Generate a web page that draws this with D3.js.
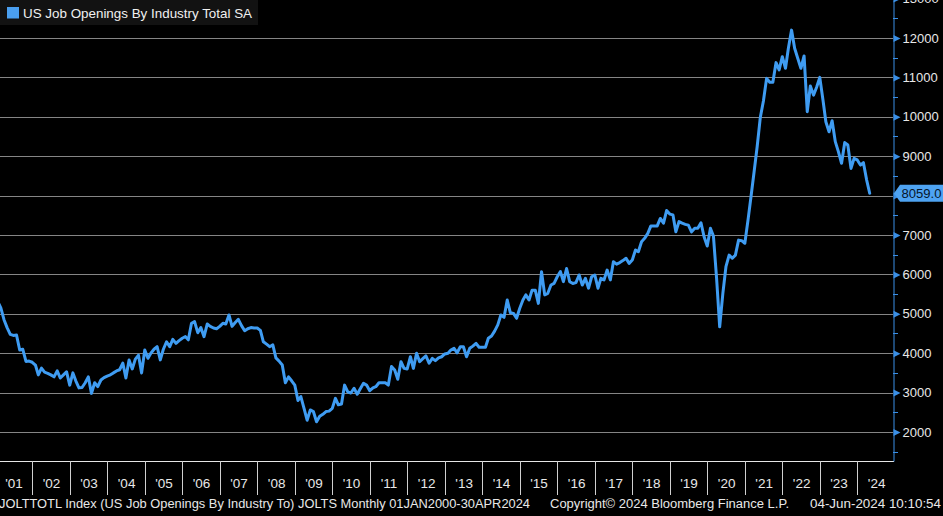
<!DOCTYPE html>
<html><head><meta charset="utf-8">
<script src="https://cdn.jsdelivr.net/npm/d3@7"></script>
<style>html,body{margin:0;padding:0;background:#000;}svg{display:block;}</style>
</head><body>
<svg id="chart" width="943" height="516"></svg>
<script>
// ---- data ----
const seriesTitle = "US Job Openings By Industry Total SA";
const firstYear = 2001;   // first value = Jan 2001, monthly (plotted at month end)
const openings = [
  // 2001
  5300,5150,4850,4650,4480,4450,4460,4080,4100,3790,3800,3770,
  // 2002
  3700,3450,3620,3520,3490,3450,3400,3550,3370,3450,3530,3190,
  // 2003
  3500,3300,3120,3130,3250,3400,2980,3250,3150,3320,3380,3420,
  // 2004
  3450,3500,3550,3580,3750,3370,3830,3600,3850,3950,3500,4080,
  // 2005
  3870,4000,4100,4165,3830,4100,4290,4165,4350,4250,4320,4380,
  // 2006
  4420,4340,4760,4800,4520,4650,4420,4740,4680,4640,4620,4680,
  // 2007
  4760,4740,4970,4680,4780,4860,4700,4570,4620,4650,4640,4640,
  // 2008
  4580,4290,4230,4165,4210,3880,3800,3700,3250,3400,3300,3190,
  // 2009
  2800,2900,2600,2300,2560,2520,2260,2400,2450,2520,2530,2600,
  // 2010
  2855,2690,2710,3190,3020,2990,3110,2960,3100,3235,3190,3050,
  // 2011
  3120,3150,3250,3250,3250,3190,3660,3575,3340,3785,3615,3600,
  // 2012
  3910,3615,4000,3785,3860,3930,3745,3870,3810,3880,3910,3980,
  // 2013
  4000,4080,4125,4010,4165,4165,3910,4125,4180,4250,4150,4150,
  // 2014
  4150,4380,4435,4560,4720,4970,4910,5350,5030,5010,4885,5140,
  // 2015
  5350,5480,5350,5600,5600,5265,6070,5480,5520,5730,5770,5940,
  // 2016
  6070,5815,6150,5815,5770,5790,5985,5730,5900,5650,5940,5985,
  // 2017
  5650,5900,5860,6110,5860,6320,6260,6300,6350,6410,6280,6365,
  // 2018
  6620,6575,6830,6915,7040,7230,7230,7230,7420,7300,7620,7530,
  // 2019
  7510,7080,7340,7300,7270,7250,7080,7170,7170,7310,6955,6720,
  // 2020
  7170,6975,5900,4670,5520,6195,6490,6410,6490,6870,6855,6790,
  // 2021
  7380,7950,8600,9240,9990,10400,10975,10875,10875,11375,11190,11525,
  // 2022
  11230,11740,12200,11740,11480,11230,11545,10130,10780,10550,10750,11000,
  // 2023
  10425,9875,9620,9900,9370,9115,8820,9345,9285,8690,8945,8905,
  // 2024
  8775,8835,8400,8059
];
const yTicks = [2000,3000,4000,5000,6000,7000,8000,9000,10000,11000,12000,13000];
const yMinorTicks = [1500,2500,3500,4500,5500,6500,7500,8500,9500,10500,11500,12500];
const yearLabels = ["'01","'02","'03","'04","'05","'06","'07","'08","'09","'10","'11","'12",
                    "'13","'14","'15","'16","'17","'18","'19","'20","'21","'22","'23","'24"];
const lastValueLabel = "8059.0";
const footerLeft = "JOLTTOTL Index (US Job Openings By Industry To) JOLTS  Monthly 01JAN2000-30APR2024";
const footerMid = "Copyright\u00A9 2024 Bloomberg Finance L.P.";
const footerRight = "04-Jun-2024 10:10:54";

// ---- setup ----
const W = 943, H = 516;
const plotR = 893, plotB = 461;
const blue = "#3f9cf2";
const axisBlue = "#3a8fe6";
const font = "'Liberation Sans', Arial, sans-serif";

const svg = d3.select("#chart");
svg.append("rect").attr("width", W).attr("height", H).attr("fill", "#000");

const data = openings.map((v, i) => ({
  date: new Date(firstYear + Math.floor(i / 12), (i % 12) + 1, 0),
  v
}));
const lastV = openings[openings.length - 1];

const x = d3.scaleTime()
  .domain([new Date(2001, 1, 20), new Date(2024, 11, 13)])
  .range([0, plotR]);
const y = d3.scaleLinear().domain([1264, 12964]).range([plotB, 0]);

// gridlines
svg.append("g").selectAll("line").data(yTicks.filter(t => y(t) > 0)).join("line")
  .attr("x1", 0).attr("x2", plotR)
  .attr("y1", d => Math.round(y(d)) + 0.5).attr("y2", d => Math.round(y(d)) + 0.5)
  .attr("stroke", "#858585").attr("stroke-width", 1);

// line
svg.append("clipPath").attr("id", "clip").append("rect")
  .attr("x", 0).attr("y", 0).attr("width", plotR).attr("height", plotB);
svg.append("path").datum(data)
  .attr("clip-path", "url(#clip)")
  .attr("fill", "none").attr("stroke", blue).attr("stroke-width", 3)
  .attr("stroke-linejoin", "round").attr("stroke-linecap", "round")
  .attr("d", d3.line().x(d => x(d.date)).y(d => y(d.v)));

// bottom frame line
svg.append("line").attr("x1", 0).attr("x2", plotR + 1).attr("y1", plotB + 0.5).attr("y2", plotB + 0.5)
  .attr("stroke", "#e6e6e6").attr("stroke-width", 1);

// right axis (the tick label hidden under the last-value box is not drawn)
const yAxis = svg.append("g").attr("transform", `translate(${plotR + 0.5},0)`)
  .call(d3.axisRight(y).tickValues(yTicks).tickSize(0).tickSizeOuter(0).tickPadding(9)
    .tickFormat(d => Math.abs(y(d) - y(lastV)) < 14 ? "" : d3.format("d")(d)));
yAxis.select(".domain").attr("stroke", axisBlue).attr("stroke-width", 1);
yAxis.selectAll(".tick text").attr("fill", "#e8e8e8").style("font-family", font).style("font-size", "13px");
yAxis.selectAll(".tick").append("path").attr("d", "M0,-3.5L7,0L0,3.5Z").attr("fill", axisBlue);
svg.append("g").selectAll("line").data(yMinorTicks).join("line")
  .attr("x1", plotR).attr("x2", plotR + 5)
  .attr("y1", d => Math.round(y(d)) + 0.5).attr("y2", d => Math.round(y(d)) + 0.5)
  .attr("stroke", axisBlue).attr("stroke-width", 1);

// year separators
const yearStarts = d3.range(2002, 2025).map(yr => new Date(yr, 0, 1));
svg.append("g").selectAll("line").data(yearStarts).join("line")
  .attr("x1", d => Math.round(x(d)) + 0.5).attr("x2", d => Math.round(x(d)) + 0.5)
  .attr("y1", plotB).attr("y2", 495)
  .attr("stroke", "#d0d0d0").attr("stroke-width", 1);

// year labels via axisBottom at mid-year
const midYears = yearLabels.map((_, i) => new Date(2001 + i, 6, 2));
const xAxis = svg.append("g").attr("transform", `translate(0,${plotB})`)
  .call(d3.axisBottom(x).tickValues(midYears).tickSize(0).tickPadding(17)
    .tickFormat((d, i) => yearLabels[i]));
xAxis.select(".domain").remove();
xAxis.selectAll(".tick text").attr("fill", "#e8e8e8").style("font-family", font).style("font-size", "13.5px");

// last value label
const ly = y(lastV);
svg.append("path")
  .attr("d", `M${plotR + 1},${ly} L${plotR + 7},${ly - 8.5} H${W} V${ly + 8.5} H${plotR + 7} Z`)
  .attr("fill", "#4ea3f2");
svg.append("text").attr("x", 901.5).attr("y", ly + 4.6)
  .attr("fill", "#06162b").style("font-family", font).style("font-size", "13px")
  .attr("textLength", 40).attr("lengthAdjust", "spacingAndGlyphs")
  .text(lastValueLabel);

// legend
svg.append("rect").attr("x", 0).attr("y", 0).attr("width", 258).attr("height", 25).attr("fill", "#121212");
svg.append("rect").attr("x", 7).attr("y", 7).attr("width", 12).attr("height", 11.5).attr("fill", "#4a9ff0");
svg.append("text").attr("x", 23).attr("y", 18).attr("fill", "#f0f0f0")
  .style("font-family", font).style("font-size", "13.5px")
  .attr("textLength", 229).attr("lengthAdjust", "spacingAndGlyphs")
  .text(seriesTitle);

// footer
const foot = [
  {t: footerLeft, x: -1, w: 531},
  {t: footerMid, x: 550, w: 239},
  {t: footerRight, x: 810, w: 131}
];
svg.append("g").selectAll("text").data(foot).join("text")
  .attr("x", d => d.x).attr("y", 508)
  .attr("fill", "#e8e8e8").style("font-family", font).style("font-size", "12.5px")
  .attr("textLength", d => d.w).attr("lengthAdjust", "spacingAndGlyphs")
  .text(d => d.t);
</script>
</body></html>
